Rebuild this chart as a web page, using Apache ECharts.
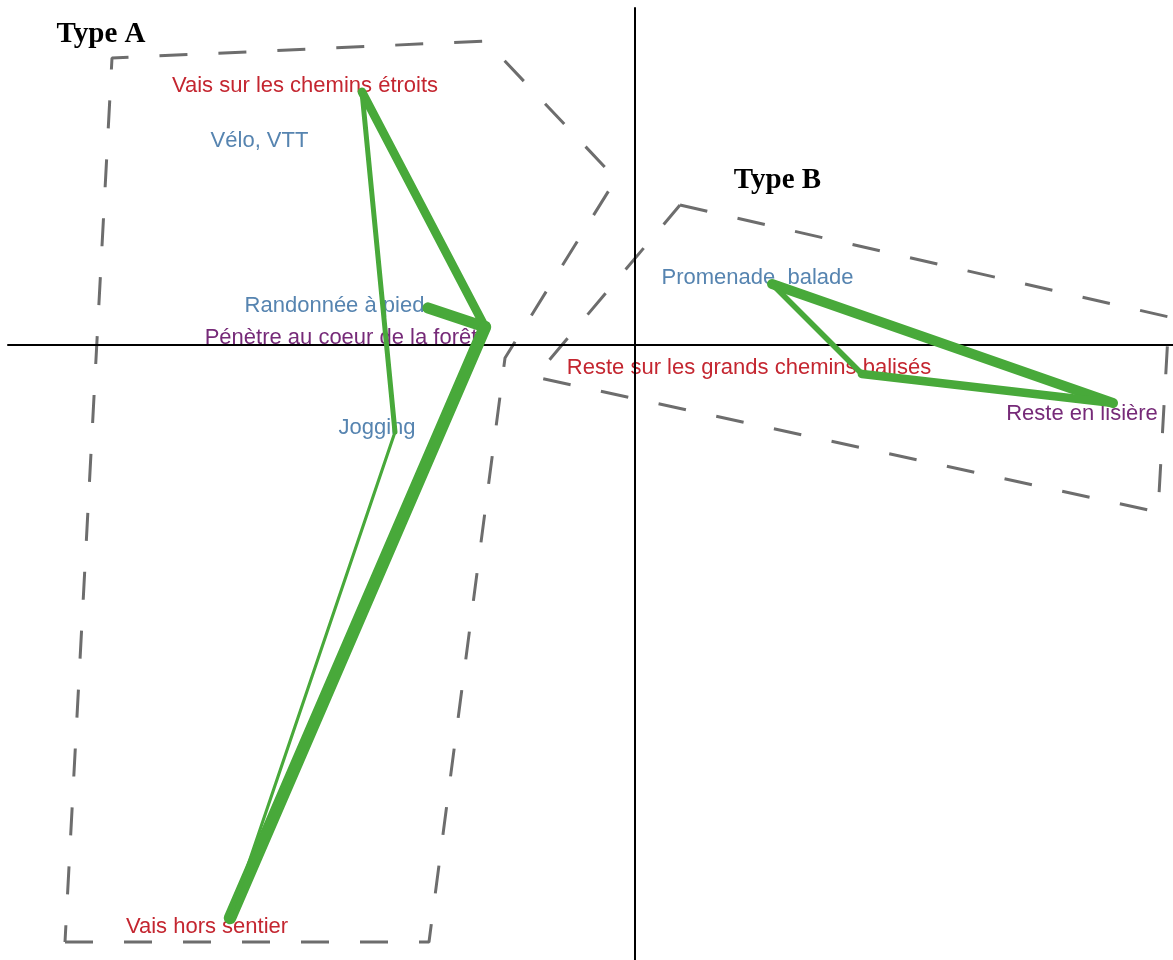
<!DOCTYPE html>
<html>
<head>
<meta charset="utf-8">
<script src="https://cdn.jsdelivr.net/npm/echarts@6/dist/echarts.min.js"></script>
<style>
html,body{margin:0;padding:0;background:#fff;}
#chart{width:1173px;height:960px;}
</style>
</head>
<body>
<div id="chart"></div>
<script>
// ---- data (coordinates in factor-map units) ----
const categories = ['Vais sur les chemins étroits','Vélo, VTT','Randonnée à pied','Pénètre au coeur de la forêt','Jogging','Vais hors sentier','Promenade, balade','Reste sur les grands chemins balisés','Reste en lisière'];
const catVariable = ['chemin','activite','activite','profondeur','activite','chemin','activite','chemin','profondeur'];
const dim1 = [-1.365, -1.8775, -1.035, -0.75, -1.20, -2.025, 0.685, 1.135, 2.39];
const dim2 = [1.265, 1.03, 0.185, 0.09, -0.435, -2.865, 0.305, -0.145, -0.29];

const linkSource = [0, 0, 2, 3, 4, 6, 6, 7];
const linkTarget = [3, 4, 3, 5, 5, 8, 7, 8];
const linkWeight = [7, 4, 9, 10, 2.5, 8, 4.5, 7];

const groupNames = ['Type A', 'Type B'];
const groupLabelX = [-2.67, 0.7125];
const groupLabelY = [1.55, 0.82];
const hullAX = [-2.85, -1.03, -0.65, -0.095, -0.745, -2.615, -2.85];
const hullAY = [-2.985, -2.985, -0.065, 0.83, 1.52, 1.435, -2.985];
const hullBX = [0.225, 2.67, 2.615, -0.5, 0.225];
const hullBY = [0.70, 0.14, -0.835, -0.16, 0.70];

const xRange = [-3.135, 2.69];
const yRange = [-3.075, 1.685];

// ---- styles ----
const varColor = {chemin:'#c42630', activite:'#5684b0', profondeur:'#762a78'};
const labelOffset = [[-57,-6.5],[0,2],[-93.5,-2],[-144,11],[-18,-4],[-23,9],[-14.5,-6],[-113,-6],[-31,11]];
const widthPerWeight = 1.25;

const chart = echarts.init(document.getElementById('chart'));
const series = [];

// hulls
[[hullAX, hullAY],[hullBX, hullBY]].forEach(([hx, hy]) => {
  series.push({
    type:'line', z:2, silent:true, symbol:'none', animation:false,
    data: hx.map((x,i)=>[x, hy[i]]),
    lineStyle:{color:'#6d6d6d', width:3, type:[28,31], cap:'butt'}
  });
});

// links
linkSource.forEach((s, k) => {
  const t = linkTarget[k];
  series.push({
    type:'line', z:5, silent:true, symbol:'none', animation:false,
    data:[[dim1[s], dim2[s]], [dim1[t], dim2[t]]],
    lineStyle:{color:'#48a93a', width: linkWeight[k]*widthPerWeight, cap:'round', join:'miter'}
  });
});

// category labels
series.push({
  type:'scatter', z:1, silent:true, animation:false,
  symbolSize:1, itemStyle:{color:'rgba(0,0,0,0)', opacity:1},
  data: categories.map((c,i)=>({
    name:c, value:[dim1[i], dim2[i]],
    label:{offset:labelOffset[i], color:varColor[catVariable[i]]}
  })),
  label:{show:true, position:'inside', formatter:'{b}', align:'center', verticalAlign:'middle', opacity:1,
    fontFamily:'Liberation Sans, Arial, sans-serif', fontSize:22, textBorderWidth:0}
});

// group labels
series.push({
  type:'scatter', z:1, silent:true, animation:false,
  symbolSize:1, itemStyle:{color:'rgba(0,0,0,0)', opacity:1},
  data: groupNames.map((g,i)=>({name:g, value:[groupLabelX[i], groupLabelY[i]]})),
  label:{show:true, position:'inside', formatter:'{b}', align:'center', verticalAlign:'middle', opacity:1,
    fontFamily:'Liberation Serif, Times New Roman, serif', fontWeight:'bold', fontSize:29, color:'#000', textBorderWidth:0}
});

chart.setOption({
  animation:false,
  backgroundColor:'#fff',
  grid:{left:8, right:0, top:8, bottom:0, containLabel:false},
  xAxis:{type:'value', min:xRange[0], max:xRange[1], z:3,
    axisLine:{onZero:true, lineStyle:{color:'#000', width:2}},
    axisTick:{show:false}, axisLabel:{show:false}, splitLine:{show:false}},
  yAxis:{type:'value', min:yRange[0], max:yRange[1], z:3,
    axisLine:{onZero:true, lineStyle:{color:'#000', width:2}},
    axisTick:{show:false}, axisLabel:{show:false}, splitLine:{show:false}},
  series: series
});
</script>
</body>
</html>
